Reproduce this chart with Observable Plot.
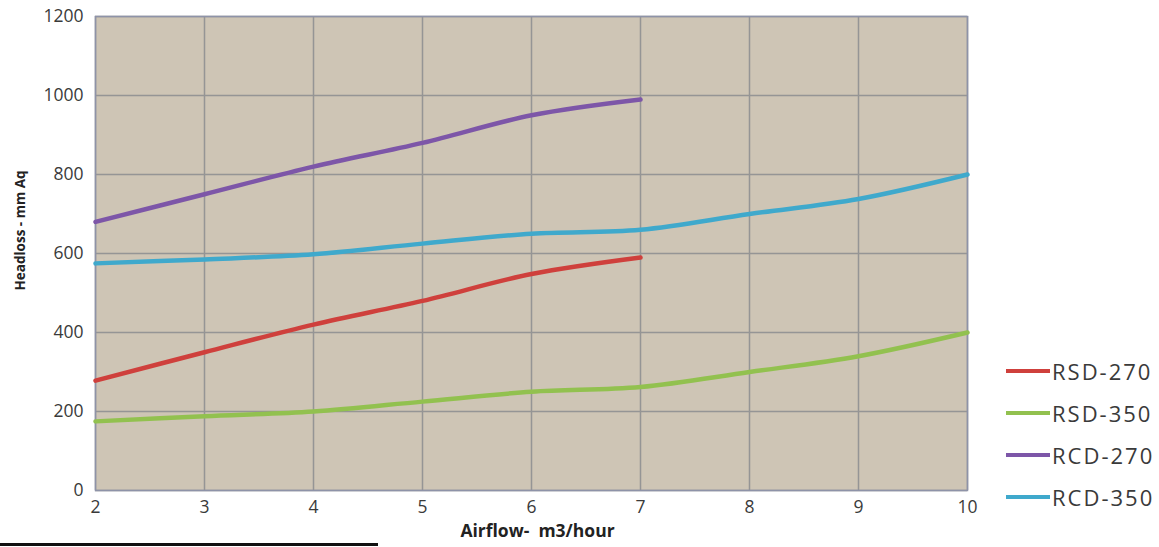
<!DOCTYPE html>
<html>
<head>
<meta charset="utf-8">
<script src="https://cdn.jsdelivr.net/npm/d3@7"></script>
<script src="https://cdn.jsdelivr.net/npm/@observablehq/plot@0.6"></script>
<style>
  html, body { margin: 0; padding: 0; background: #fff; }
  body { width: 1159px; height: 547px; position: relative; overflow: hidden; font-family: "Open Sans", sans-serif; }
  #chart { position: absolute; left: 0; top: 0; }
  #chart svg g[aria-label="y-axis tick label"] text,
  #chart svg g[aria-label="x-axis tick label"] text { font-size: 17.5px; }
  #legend { position: absolute; left: 1006px; top: 350px; }
  .item { display: flex; align-items: center; height: 42px; }
  .swatch { width: 44px; height: 4px; margin-right: 2px; }
  .label { font-size: 22px; color: #3a3a3a; letter-spacing: 2px; }
  #rule { position: absolute; left: 0; top: 543px; width: 378px; height: 3px; background: #111; }
</style>
</head>
<body>
<div id="chart"></div>
<div id="legend"></div>
<div id="rule"></div>
<script>
const airflow = [2, 3, 4, 5, 6, 7, 8, 9, 10];
const seriesNames = ["RSD-270", "RSD-350", "RCD-270", "RCD-350"];
const seriesColors = ["#cf403c", "#92c14f", "#7d56a8", "#3fa9cc"];
const rsd270 = [278, 350, 420, 480, 548, 590];
const rsd350 = [175, 188, 200, 225, 250, 262, 300, 340, 400];
const rcd270 = [680, 750, 820, 880, 950, 990];
const rcd350 = [575, 585, 598, 625, 650, 660, 700, 738, 800];
const yTicks = [0, 200, 400, 600, 800, 1000, 1200];
const xTicks = [2, 3, 4, 5, 6, 7, 8, 9, 10];

const seriesValues = [rsd270, rsd350, rcd270, rcd350];
const data = [];
seriesValues.forEach((vals, i) => {
  vals.forEach((v, j) => data.push({series: seriesNames[i], x: airflow[j], y: v}));
});

const chart = Plot.plot({
  width: 1159,
  height: 547,
  marginLeft: 95,
  marginRight: 192,
  marginTop: 16,
  marginBottom: 57,
  style: {fontFamily: "'Open Sans', sans-serif", fontSize: "17px", color: "#3a3a3a", background: "transparent"},
  x: {domain: [2, 10], ticks: xTicks, label: null},
  y: {domain: [0, 1200], ticks: yTicks, label: null},
  color: {domain: seriesNames, range: seriesColors},
  marks: [
    Plot.frame({fill: "#cec5b5"}),
    Plot.gridX(xTicks, {stroke: "#959595", strokeOpacity: 1, strokeWidth: 1.5}),
    Plot.gridY(yTicks, {stroke: "#959595", strokeOpacity: 1, strokeWidth: 1.5}),
    Plot.frame({stroke: "#8e93a8", strokeWidth: 1.5}),
    Plot.axisX({ticks: xTicks, tickSize: 0, tickPadding: 10, label: null, tickFormat: d => String(d)}),
    Plot.axisY({ticks: yTicks, tickSize: 0, tickPadding: 12, label: null, tickFormat: d => String(d)}),
    Plot.line(data, {x: "x", y: "y", z: "series", stroke: "series", strokeWidth: 4.5, curve: "catmull-rom"}),
    Plot.text(["Airflow-  m3/hour"], {frameAnchor: "bottom", dy: 46, dx: 6, fontWeight: "bold", fontSize: 17.5, fill: "#222"}),
    Plot.text(["Headloss - mm Aq"], {frameAnchor: "left", textAnchor: "middle", dx: -75, dy: -23, rotate: -90, fontWeight: "bold", fontSize: 13.5, fill: "#222"})
  ]
});
document.getElementById("chart").appendChild(chart);

const legend = document.getElementById("legend");
seriesNames.forEach((name, i) => {
  const item = document.createElement("div");
  item.className = "item";
  const sw = document.createElement("div");
  sw.className = "swatch";
  sw.style.background = seriesColors[i];
  const lb = document.createElement("span");
  lb.className = "label";
  lb.textContent = name;
  item.appendChild(sw);
  item.appendChild(lb);
  legend.appendChild(item);
});
</script>
</body>
</html>
